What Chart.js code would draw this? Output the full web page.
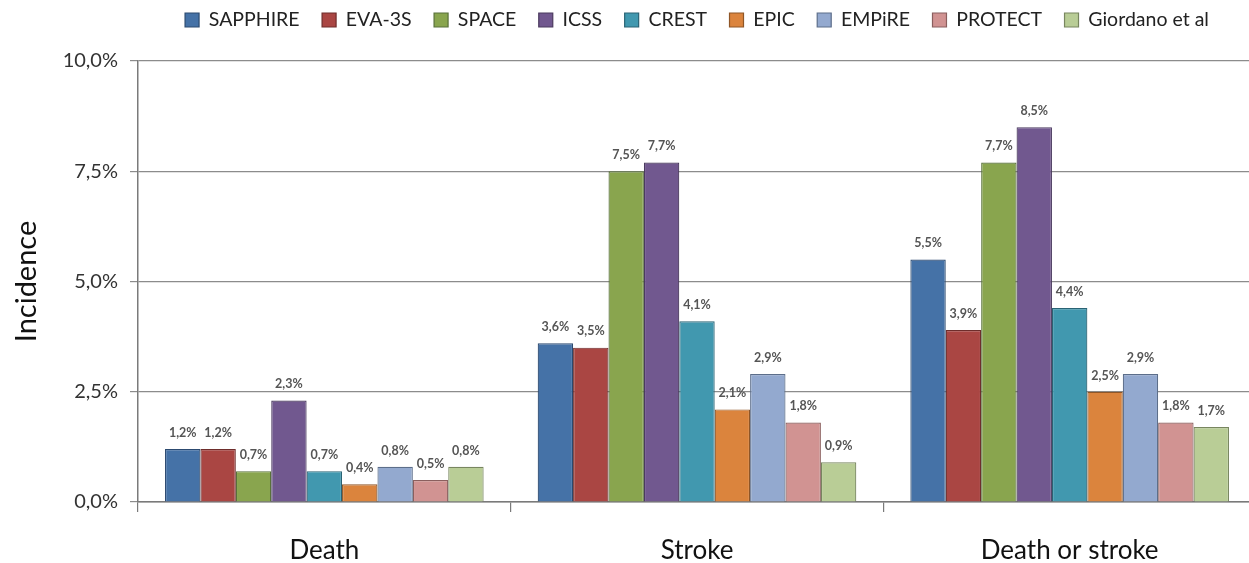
<!DOCTYPE html>
<html>
<head>
<meta charset="utf-8">
<script src="https://cdn.jsdelivr.net/npm/chart.js@4/dist/chart.umd.min.js"></script>
<style>
  html, body { margin: 0; padding: 0; background: #fff; overflow: hidden; }
  #wrap { width: 1256px; height: 563px; position: relative; }
</style>
</head>
<body>
<div id="wrap"><canvas id="c"></canvas></div>
<script>
const categories = ['Death', 'Stroke', 'Death or stroke'];
const seriesNames = ['SAPPHIRE', 'EVA-3S', 'SPACE', 'ICSS', 'CREST', 'EPIC', 'EMPiRE', 'PROTECT', 'Giordano et al'];
const sapphire = [1.2, 3.6, 5.5];
const eva3s = [1.2, 3.5, 3.9];
const space = [0.7, 7.5, 7.7];
const icss = [2.3, 7.7, 8.5];
const crest = [0.7, 4.1, 4.4];
const epic = [0.4, 2.1, 2.5];
const empire = [0.8, 2.9, 2.9];
const protect = [0.5, 1.8, 1.8];
const giordano = [0.8, 0.9, 1.7];
const yTicks = [0, 2.5, 5, 7.5, 10];

const seriesValues = [sapphire, eva3s, space, icss, crest, epic, empire, protect, giordano];
const fills = ['#4572A7', '#AA4643', '#89A54E', '#71588F', '#4198AF', '#DB843D', '#93A9CF', '#D19392', '#B9CD96'];
const borders = ['#2c4a70', '#6e2d2b', '#58703a', '#4a3a5e', '#2a6374', '#8f5627', '#5c6e8a', '#8a5f5e', '#78865f'];

const fmt = v => v.toFixed(1).replace('.', ',') + '%';
const FONT = 'Lato, "Open Sans", sans-serif';

const valueLabels = {
  id: 'valueLabels',
  afterDatasetsDraw(chart) {
    const ctx = chart.ctx;
    ctx.save();
    ctx.font = 'bold 12.5px ' + FONT;
    ctx.fillStyle = '#555555';
    ctx.textAlign = 'center';
    ctx.textBaseline = 'bottom';
    chart.data.datasets.forEach((ds, i) => {
      const meta = chart.getDatasetMeta(i);
      meta.data.forEach((el, j) => {
        ctx.fillText(fmt(ds.data[j]), el.x, el.y - 10);
      });
    });
    ctx.restore();
  }
};

new Chart(document.getElementById('c'), {
  type: 'bar',
  data: {
    labels: categories,
    datasets: seriesNames.map((n, i) => ({
      label: n,
      data: seriesValues[i],
      backgroundColor: fills[i],
      borderColor: borders[i],
      borderWidth: 1.2,
      categoryPercentage: 0.855,
      barPercentage: 1.0
    }))
  },
  options: {
    responsive: true,
    maintainAspectRatio: false,
    animation: false,
    events: [],
    layout: { padding: { top: -12.25, left: 0, right: 0, bottom: 0 } },
    plugins: {
      legend: {
        position: 'top',
        fullSize: false,
        weight: 3000,
        labels: {
          font: { family: FONT, size: 19.5 },
          color: '#222',
          boxWidth: 14,
          boxHeight: 14,
          padding: 22.5
        }
      },
      subtitle: {
        display: true,
        text: '',
        font: { size: 10 },
        padding: { top: 0, bottom: 9.25 }
      },
      tooltip: { enabled: false }
    },
    scales: {
      x: {
        grid: {
          offset: true,
          drawOnChartArea: false,
          drawTicks: true,
          tickLength: 10,
          color: '#7a7a7a',
          lineWidth: 1.2
        },
        border: { color: '#7a7a7a', width: 1.5 },
        ticks: {
          font: { family: FONT, size: 26 },
          color: '#111',
          padding: 23
        },
        afterFit: s => { s.height = 61; }
      },
      y: {
        min: 0,
        max: 10,
        afterBuildTicks: s => { s.ticks = yTicks.map(v => ({ value: v })); },
        grid: {
          color: '#8c8c8c',
          lineWidth: 1.2,
          tickLength: 8
        },
        border: { color: '#7a7a7a', width: 1.5 },
        ticks: {
          font: { family: FONT, size: 20 },
          color: '#333',
          padding: 12,
          callback: v => fmt(v)
        },
        title: {
          display: true,
          text: 'Incidence',
          font: { family: FONT, size: 29 },
          color: '#111',
          padding: { top: 9, bottom: 0 }
        },
        afterFit: s => { s.width = 138; }
      }
    }
  },
  plugins: [valueLabels]
});
</script>
</body>
</html>
